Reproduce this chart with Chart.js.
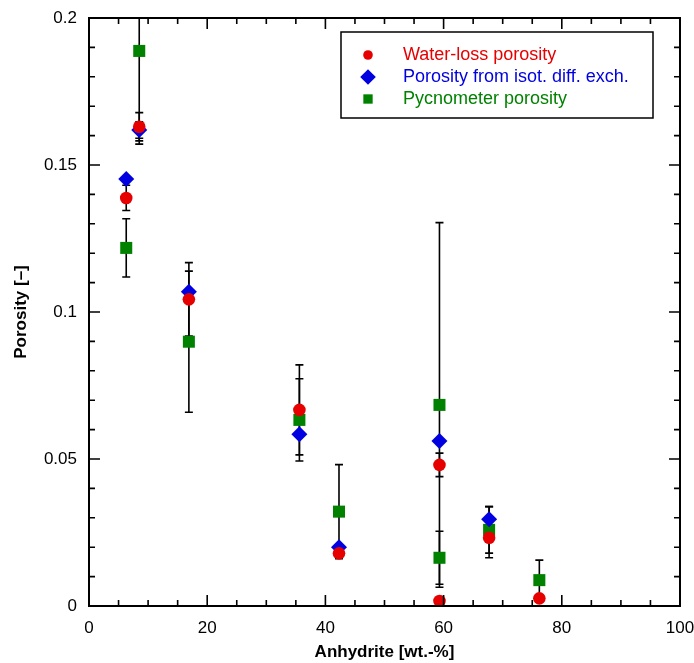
<!DOCTYPE html>
<html>
<head>
<meta charset="utf-8">
<script src="https://cdn.jsdelivr.net/npm/chart.js@4.4.1/dist/chart.umd.min.js"></script>
<style>
  html, body { margin: 0; padding: 0; background: #fff; }
  #wrap { width: 694px; height: 663px; }
</style>
</head>
<body>
<div id="wrap"><canvas id="chartPorosity" width="694" height="663"></canvas></div>
<script>
// anhydrite content [wt.-%], porosity [-] and error (+/-) per method
const waterX = [6.3, 8.5, 16.9, 35.6, 42.3, 59.3, 59.3, 67.7, 76.2];
const waterY = [0.1388, 0.163, 0.1043, 0.0667, 0.0179, 0.048, 0.0017, 0.0232, 0.0026];
const waterErr = [0.0043, 0.0048, 0.0125, 0.0153, 0, 0.004, 0, 0.0068, 0];

const isotX = [6.3, 8.5, 16.9, 35.6, 42.3, 59.3, 67.7];
const isotY = [0.1452, 0.1619, 0.1069, 0.0584, 0.0200, 0.0561, 0.0295];
const isotErr = [0, 0.0028, 0, 0, 0, 0, 0.0043];

const pycX = [6.3, 8.5, 16.9, 35.6, 42.3, 59.3, 59.3, 67.7, 76.2];
const pycY = [0.1218, 0.1888, 0.0899, 0.0633, 0.0321, 0.0684, 0.0164, 0.0259, 0.0088];
const pycErr = [0.0099, 0.0317, 0.024, 0.014, 0.016, 0.062, 0.009, 0.0079, 0.0068];

const seriesLabels = ['Water-loss porosity', 'Porosity from isot. diff. exch.', 'Pycnometer porosity'];
const xTicks = [0, 20, 40, 60, 80, 100];
const yTicks = [0, 0.05, 0.1, 0.15, 0.2];

const FONT = "'Liberation Sans', Arial, Helvetica, sans-serif";
const RED = '#e60000';
const BLUE = '#0000e0';
const GREEN = '#008200';

const toPoints = (xs, ys) => xs.map((x, i) => ({ x: x, y: ys[i] }));

// vertical error bars with caps, drawn under the markers
const errorBars = {
    id: 'errorBars',
    beforeDatasetsDraw(chart) {
        const { ctx, chartArea, scales } = chart;
        ctx.save();
        ctx.beginPath();
        ctx.rect(chartArea.left, chartArea.top, chartArea.width, chartArea.height);
        ctx.clip();
        ctx.strokeStyle = '#000';
        ctx.lineWidth = 1.6;
        chart.data.datasets.forEach(ds => {
            ds.data.forEach((p, i) => {
                const e = ds.errors[i];
                if (!e) return;
                const px = scales.x.getPixelForValue(p.x);
                const top = scales.y.getPixelForValue(p.y + e);
                const bot = scales.y.getPixelForValue(p.y - e);
                ctx.beginPath();
                ctx.moveTo(px, top); ctx.lineTo(px, bot);
                ctx.moveTo(px - 4, top); ctx.lineTo(px + 4, top);
                ctx.moveTo(px - 4, bot); ctx.lineTo(px + 4, bot);
                ctx.stroke();
            });
        });
        ctx.restore();
    }
};

// box frame with inward ticks on all four sides
const frame = {
    id: 'frame',
    afterDatasetsDraw(chart) {
        const { ctx, chartArea: a, scales } = chart;
        ctx.save();
        ctx.strokeStyle = '#000';
        ctx.lineWidth = 1.6;
        ctx.beginPath();
        for (let v = 0; v <= 100.001; v += 5) {
            const px = scales.x.getPixelForValue(v);
            const len = (Math.round(v) % 20 === 0) ? 11 : 6;
            ctx.moveTo(px, a.bottom); ctx.lineTo(px, a.bottom - len);
            ctx.moveTo(px, a.top); ctx.lineTo(px, a.top + len);
        }
        for (let k = 0; k <= 20; k++) {
            const py = scales.y.getPixelForValue(k / 100);
            const len = (k % 5 === 0) ? 11 : 6;
            ctx.moveTo(a.left, py); ctx.lineTo(a.left + len, py);
            ctx.moveTo(a.right, py); ctx.lineTo(a.right - len, py);
        }
        ctx.stroke();
        ctx.lineWidth = 2;
        ctx.strokeRect(a.left, a.top, a.width, a.height);
        ctx.restore();
    }
};

// boxed legend inside the plot, top right
const legendSizes = [4.8, 7.8, 6.6];
const boxLegend = {
    id: 'boxLegend',
    afterDraw(chart) {
        const { ctx } = chart;
        ctx.save();
        ctx.fillStyle = '#fff';
        ctx.fillRect(341, 32, 312, 86);
        ctx.strokeStyle = '#000';
        ctx.lineWidth = 1.5;
        ctx.strokeRect(341, 32, 312, 86);
        ctx.font = '18px ' + FONT;
        ctx.textBaseline = 'middle';
        chart.data.datasets.forEach((ds, i) => {
            const y = 55 + i * 22;
            ctx.fillStyle = ds.backgroundColor;
            ctx.strokeStyle = ds.backgroundColor;
            Chart.helpers.drawPoint(ctx, {
                pointStyle: ds.pointStyle,
                radius: legendSizes[i],
                borderWidth: 0,
                rotation: 0
            }, 368, y);
            ctx.fillStyle = ds.backgroundColor;
            ctx.fillText(ds.label, 403, y);
        });
        ctx.restore();
    }
};

const initChartPorosity = () => {
    const ctx = document.getElementById('chartPorosity').getContext('2d');
    return new Chart(ctx, {
        type: 'scatter',
        data: {
            datasets: [
                {
                    label: seriesLabels[0],
                    data: toPoints(waterX, waterY),
                    errors: waterErr,
                    pointStyle: 'circle',
                    pointRadius: 6.3,
                    backgroundColor: RED,
                    borderColor: RED,
                    borderWidth: 0
                },
                {
                    label: seriesLabels[1],
                    data: toPoints(isotX, isotY),
                    errors: isotErr,
                    pointStyle: 'rectRot',
                    pointRadius: 8,
                    backgroundColor: BLUE,
                    borderColor: BLUE,
                    borderWidth: 0
                },
                {
                    label: seriesLabels[2],
                    data: toPoints(pycX, pycY),
                    errors: pycErr,
                    pointStyle: 'rect',
                    pointRadius: 8.5,
                    backgroundColor: GREEN,
                    borderColor: GREEN,
                    borderWidth: 0
                }
            ]
        },
        options: {
            responsive: false,
            animation: false,
            events: [],
            layout: { padding: { top: 18, right: 14, left: 0, bottom: 0 } },
            plugins: { legend: { display: false }, tooltip: { enabled: false } },
            scales: {
                x: {
                    type: 'linear',
                    min: 0,
                    max: 100,
                    afterBuildTicks: s => { s.ticks = xTicks.map(v => ({ value: v })); },
                    ticks: { color: '#000', padding: 12, font: { family: FONT, size: 17 } },
                    grid: { display: false, drawTicks: false },
                    border: { display: false },
                    title: {
                        display: true,
                        text: 'Anhydrite [wt.-%]',
                        color: '#000',
                        font: { family: FONT, size: 17, weight: 'bold' },
                        padding: { top: 0, bottom: 0 }
                    },
                    afterFit: s => {
                        s.height = 57;
                        s.paddingLeft = 0;
                        s.paddingRight = 0;
                    }
                },
                y: {
                    type: 'linear',
                    min: 0,
                    max: 0.2,
                    afterBuildTicks: s => { s.ticks = yTicks.map(v => ({ value: v })); },
                    ticks: {
                        color: '#000',
                        padding: 12,
                        font: { family: FONT, size: 17 },
                        callback: v => String(Number(v.toFixed(2)))
                    },
                    grid: { display: false, drawTicks: false },
                    border: { display: false },
                    title: {
                        display: true,
                        text: 'Porosity [\u2013]',
                        color: '#000',
                        font: { family: FONT, size: 17, weight: 'bold' },
                        padding: { top: 11, bottom: 0 }
                    },
                    afterFit: s => {
                        s.width = 89;
                        s.paddingTop = 0;
                        s.paddingBottom = 0;
                    }
                }
            }
        },
        plugins: [errorBars, frame, boxLegend]
    });
};

initChartPorosity();
</script>
</body>
</html>
